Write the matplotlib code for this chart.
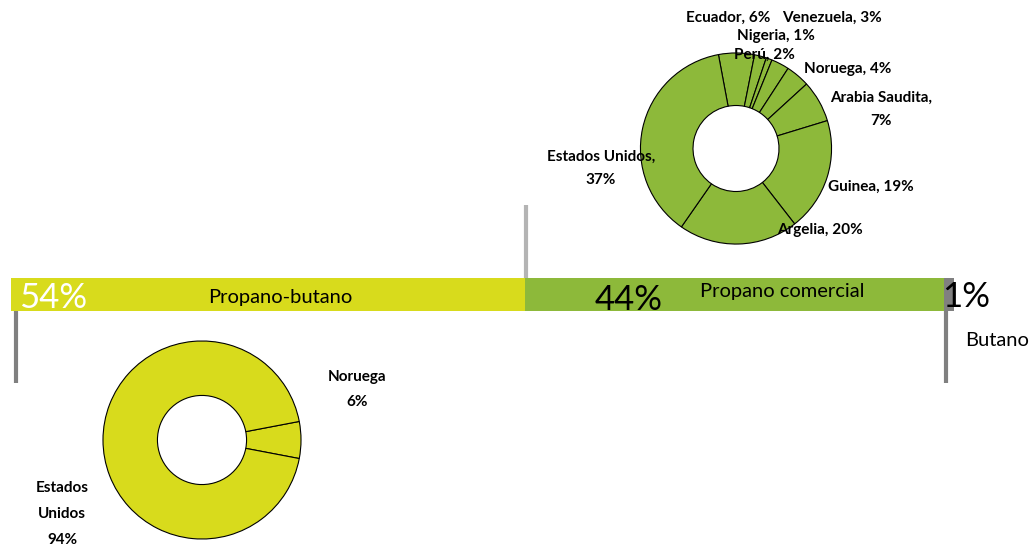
import matplotlib
matplotlib.use("Agg")
import matplotlib.pyplot as plt

# ---- data ----
bar_labels = ["Propano-butano", "Propano comercial", "Butano"]
bar_values = [54, 44, 1]

upper_names = ["Ecuador", "Perú", "Nigeria", "Venezuela", "Noruega",
               "Arabia Saudita", "Guinea", "Argelia", "Estados Unidos"]
upper_values = [6, 2, 1, 3, 4, 7, 19, 20, 37]

lower_names = ["Noruega", "Estados Unidos"]
lower_values = [6, 94]

YELLOW = "#D8DB1C"
GREEN = "#8DB93A"
GREY = "#808080"
LGREY = "#B4B4B4"

W, H = 1031, 548
fig = plt.figure(figsize=(W / 100, H / 100), dpi=100)
plt.rcParams['font.family'] = ['Lato', 'DejaVu Sans']


def px_axes(x0, y0, x1, y1):
    return fig.add_axes([x0 / W, 1 - y1 / H, (x1 - x0) / W, (y1 - y0) / H])


# ---- stacked bar ----
axb = px_axes(11, 278, 954, 311)
colors = [YELLOW, GREEN, GREY]
left = 0
for v, c in zip(bar_values, colors):
    axb.barh(0, v, left=left, height=1, color=c, edgecolor="none")
    left += v
axb.set_xlim(0, sum(bar_values))
axb.set_ylim(-0.5, 0.5)
axb.axis("off")

# ---- upper donut ----
cx, cy, r = 736, 148.5, 96.5
axu = px_axes(cx - r, cy - r, cx + r, cy + r)
axu.pie(upper_values, colors=[GREEN] * len(upper_values), startangle=100.6,
        counterclock=False, radius=1,
        wedgeprops=dict(width=0.55, edgecolor="black", linewidth=0.8))
axu.set_xlim(-1.01, 1.01)
axu.set_ylim(-1.01, 1.01)
axu.set_aspect("equal")
axu.axis("off")

# ---- lower donut ----
cx, cy, r = 202, 440, 100
axl = px_axes(cx - r, cy - r, cx + r, cy + r)
axl.pie(lower_values, colors=[YELLOW] * len(lower_values),
        startangle=360 * lower_values[0] / 200, counterclock=False, radius=1,
        wedgeprops=dict(width=0.55, edgecolor="black", linewidth=0.8))
axl.set_xlim(-1.01, 1.01)
axl.set_ylim(-1.01, 1.01)
axl.set_aspect("equal")
axl.axis("off")

# ---- overlay for lines and text ----
ov = fig.add_axes([0, 0, 1, 1])
ov.set_xlim(0, W)
ov.set_ylim(H, 0)
ov.axis("off")
ov.patch.set_alpha(0)

ov.plot([16, 16], [311, 383], color=GREY, lw=3, solid_capstyle="butt")
ov.plot([526, 526], [205, 278], color=LGREY, lw=3, solid_capstyle="butt")
ov.plot([946, 946], [311, 383], color=GREY, lw=3, solid_capstyle="butt")

big = dict(fontsize=25, fontweight="normal", va="center")
ov.text(19, 298, f"{bar_values[0]}%", color="white", ha="left", **big)
ov.text(595, 300, f"{bar_values[1]}%", color="black", ha="left", **big)
ov.text(942, 297, f"{bar_values[2]}%", color="black", ha="left", **big)

mid = dict(fontsize=14.5, va="center", color="black")
ov.text(280, 297, bar_labels[0], ha="center", **mid)
ov.text(782, 292, bar_labels[1], ha="center", **mid)
ov.text(997, 341, bar_labels[2], ha="center", **mid)

lab = dict(fontsize=11, va="center", color="black", fontweight="bold")
u = dict(zip(upper_names, upper_values))
ov.text(728, 18, f"Ecuador, {u['Ecuador']}%", ha="center", **lab)
ov.text(832, 18, f"Venezuela, {u['Venezuela']}%", ha="center", **lab)
ov.text(776, 36, f"Nigeria, {u['Nigeria']}%", ha="center", **lab)
ov.text(764, 55, f"Perú, {u['Perú']}%", ha="center", **lab)
ov.text(848, 69, f"Noruega, {u['Noruega']}%", ha="center", **lab)
ov.text(881, 98, "Arabia Saudita,", ha="center", **lab)
ov.text(881, 121, f"{u['Arabia Saudita']}%", ha="center", **lab)
ov.text(871, 187, f"Guinea, {u['Guinea']}%", ha="center", **lab)
ov.text(820, 230, f"Argelia, {u['Argelia']}%", ha="center", **lab)
ov.text(601, 157, "Estados Unidos,", ha="center", **lab)
ov.text(601, 180, f"{u['Estados Unidos']}%", ha="center", **lab)

lw_ = dict(zip(lower_names, lower_values))
ov.text(357, 377, "Noruega", ha="center", **lab)
ov.text(357, 402, f"{lw_['Noruega']}%", ha="center", **lab)
ov.text(62, 488, "Estados", ha="center", **lab)
ov.text(62, 514, "Unidos", ha="center", **lab)
ov.text(62, 540, f"{lw_['Estados Unidos']}%", ha="center", **lab)

fig.savefig("out.png", dpi=100)
